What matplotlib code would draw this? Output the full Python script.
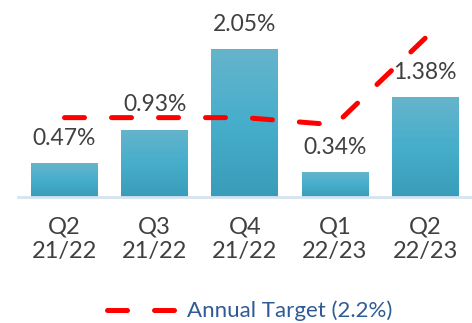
import numpy as np
import matplotlib.pyplot as plt
from matplotlib.colors import LinearSegmentedColormap

plt.rcParams['font.family'] = ['Lato', 'DejaVu Sans']

quarters = ["Q2\n21/22", "Q3\n21/22", "Q4\n21/22", "Q1\n22/23", "Q2\n22/23"]
actual = [0.47, 0.93, 2.05, 0.34, 1.38]
target = [1.1, 1.1, 1.1, 1.0, 2.2]
target_label = "Annual Target (2.2%)"

fig = plt.figure(figsize=(4.72, 3.23), dpi=100)
ax = fig.add_axes([18 / 472, 126 / 323, 1 - 18 / 472, 1 - 126 / 323])

x = np.arange(len(quarters))
bars = ax.bar(x, actual, width=0.74, color="none", edgecolor="none", zorder=2)

# vertical gradient fill for each bar
grad_cmap = LinearSegmentedColormap.from_list(
    "bar_grad", ["#3a9cb8", "#46aecb", "#66b4cc"])
grad = np.linspace(0, 1, 256).reshape(-1, 1)
for b in bars:
    x0, y0 = b.get_x(), b.get_y()
    im = ax.imshow(grad, extent=[x0, x0 + b.get_width(), y0, y0 + b.get_height()],
                   origin="lower", aspect="auto", cmap=grad_cmap, zorder=2)
    im.set_clip_path(b)

for xi, v in zip(x, actual):
    ax.annotate(f"{v:.2f}%", (xi, v), xytext=(0, 18), textcoords="offset points",
                ha="center", va="center", fontsize=16.5, color="#404040")

ax.plot(x, target, color="#ff0000", lw=3.6, dashes=(4, 5.4),
        dash_capstyle="round", solid_capstyle="round", label=target_label, zorder=3)

ax.set_xlim(-0.516, 4.52)
ax.set_ylim(0, 2.73)
ax.set_yticks([])
ax.set_xticks(x)
ax.set_xticklabels(quarters, fontsize=17, color="#404040", linespacing=1.2)
ax.tick_params(axis="x", length=0, pad=14)
for s in ["top", "right", "left"]:
    ax.spines[s].set_visible(False)
ax.spines["bottom"].set_color("#d6e4f1")
ax.spines["bottom"].set_linewidth(2)

leg = fig.legend(loc="center left", bbox_to_anchor=(107 / 472, 12 / 323),
                 frameon=False, fontsize=16, handlelength=3.3, handletextpad=0.3,
                 borderaxespad=0, borderpad=0)
for t in leg.get_texts():
    t.set_color("#2f5b94")

fig.savefig("out.png", dpi=100)
